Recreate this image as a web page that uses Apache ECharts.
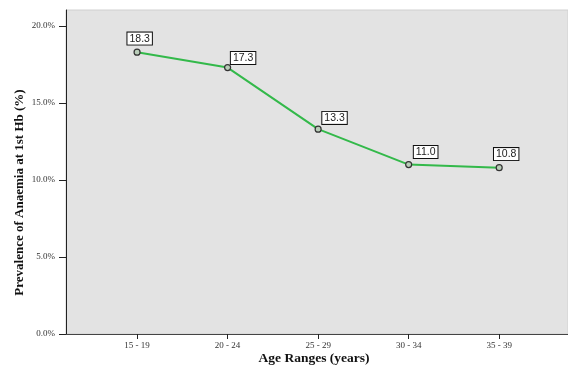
<!DOCTYPE html>
<html>
<head>
<meta charset="utf-8">
<script src="https://cdn.jsdelivr.net/npm/echarts@6/dist/echarts.min.js"></script>
<style>
html,body{margin:0;padding:0;background:#fff;}
#c{width:568px;height:366px;}
</style>
</head>
<body>
<div id="c"></div>
<script>
const categories = ['15 - 19', '20 - 24', '25 - 29', '30 - 34', '35 - 39'];
const prevalence = [18.3, 17.3, 13.3, 11.0, 10.8];
const yTicks = [0, 5, 10, 15, 20];
const xTitle = 'Age Ranges (years)';
const yTitle = 'Prevalence of Anaemia at 1st Hb (%)';

// label placement offsets (per point index), kept apart from the data
const labelOffsets = [[2.6, -4], [15.5, 0], [16.4, -1.7], [17, -3], [7, -4]];

const chart = echarts.init(document.getElementById('c'), null, {renderer: 'canvas'});
const seriesData = prevalence.map((v, i) => ({
  value: [i, v],
  label: {offset: labelOffsets[i]}
}));

const serif = '"Liberation Serif", "Times New Roman", serif';
const sans = '"Liberation Sans", Arial, sans-serif';

chart.setOption({
  animation: false,
  grid: {
    left: 66, right: 0, top: 10, bottom: 32,
    show: true, backgroundColor: '#e3e3e3', borderColor: '#d0d0d0', borderWidth: 1
  },
  xAxis: {
    type: 'value',
    min: -0.785, max: 4.76,
    splitLine: {show: false},
    axisLine: {show: true, onZero: false, lineStyle: {color: '#444', width: 1}},
    axisTick: {show: true, inside: false, length: 5, customValues: categories.map((c, i) => i), lineStyle: {color: '#222'}},
    axisLabel: {
      customValues: categories.map((c, i) => i),
      formatter: v => categories[Math.round(v)] ?? '',
      fontFamily: serif, fontSize: 9, color: '#333', margin: 7
    }
  },
  yAxis: {
    type: 'value',
    min: 0, max: 21.04,
    splitLine: {show: false},
    axisLine: {show: true, onZero: false, lineStyle: {color: '#222', width: 1}},
    axisTick: {show: true, length: 7, customValues: yTicks, lineStyle: {color: '#222'}},
    axisLabel: {
      customValues: yTicks,
      formatter: v => v.toFixed(1) + '%',
      fontFamily: serif, fontSize: 9, color: '#333', margin: 11
    }
  },
  graphic: [
    {
      type: 'text',
      x: 19.5, y: 192.5, rotation: Math.PI / 2,
      style: {text: yTitle, font: 'bold 13px ' + serif, fill: '#111', align: 'center', verticalAlign: 'middle'}
    },
    {
      type: 'text',
      x: 314, y: 359,
      style: {text: xTitle, font: 'bold 13.5px ' + serif, fill: '#111', align: 'center', verticalAlign: 'middle'}
    }
  ],
  series: [{
    type: 'line',
    data: seriesData,
    lineStyle: {color: '#33b94a', width: 2},
    symbol: 'circle',
    symbolSize: 6,
    itemStyle: {color: '#b9cdb9', borderColor: '#333', borderWidth: 1.2},
    label: {
      show: true, position: 'top', distance: 0,
      formatter: p => p.value[1].toFixed(1),
      fontFamily: sans, fontSize: 10.5, color: '#222',
      backgroundColor: '#fff', borderColor: '#111', borderWidth: 1,
      padding: [1, 2, 0, 2]
    }
  }]
});
</script>
</body>
</html>
